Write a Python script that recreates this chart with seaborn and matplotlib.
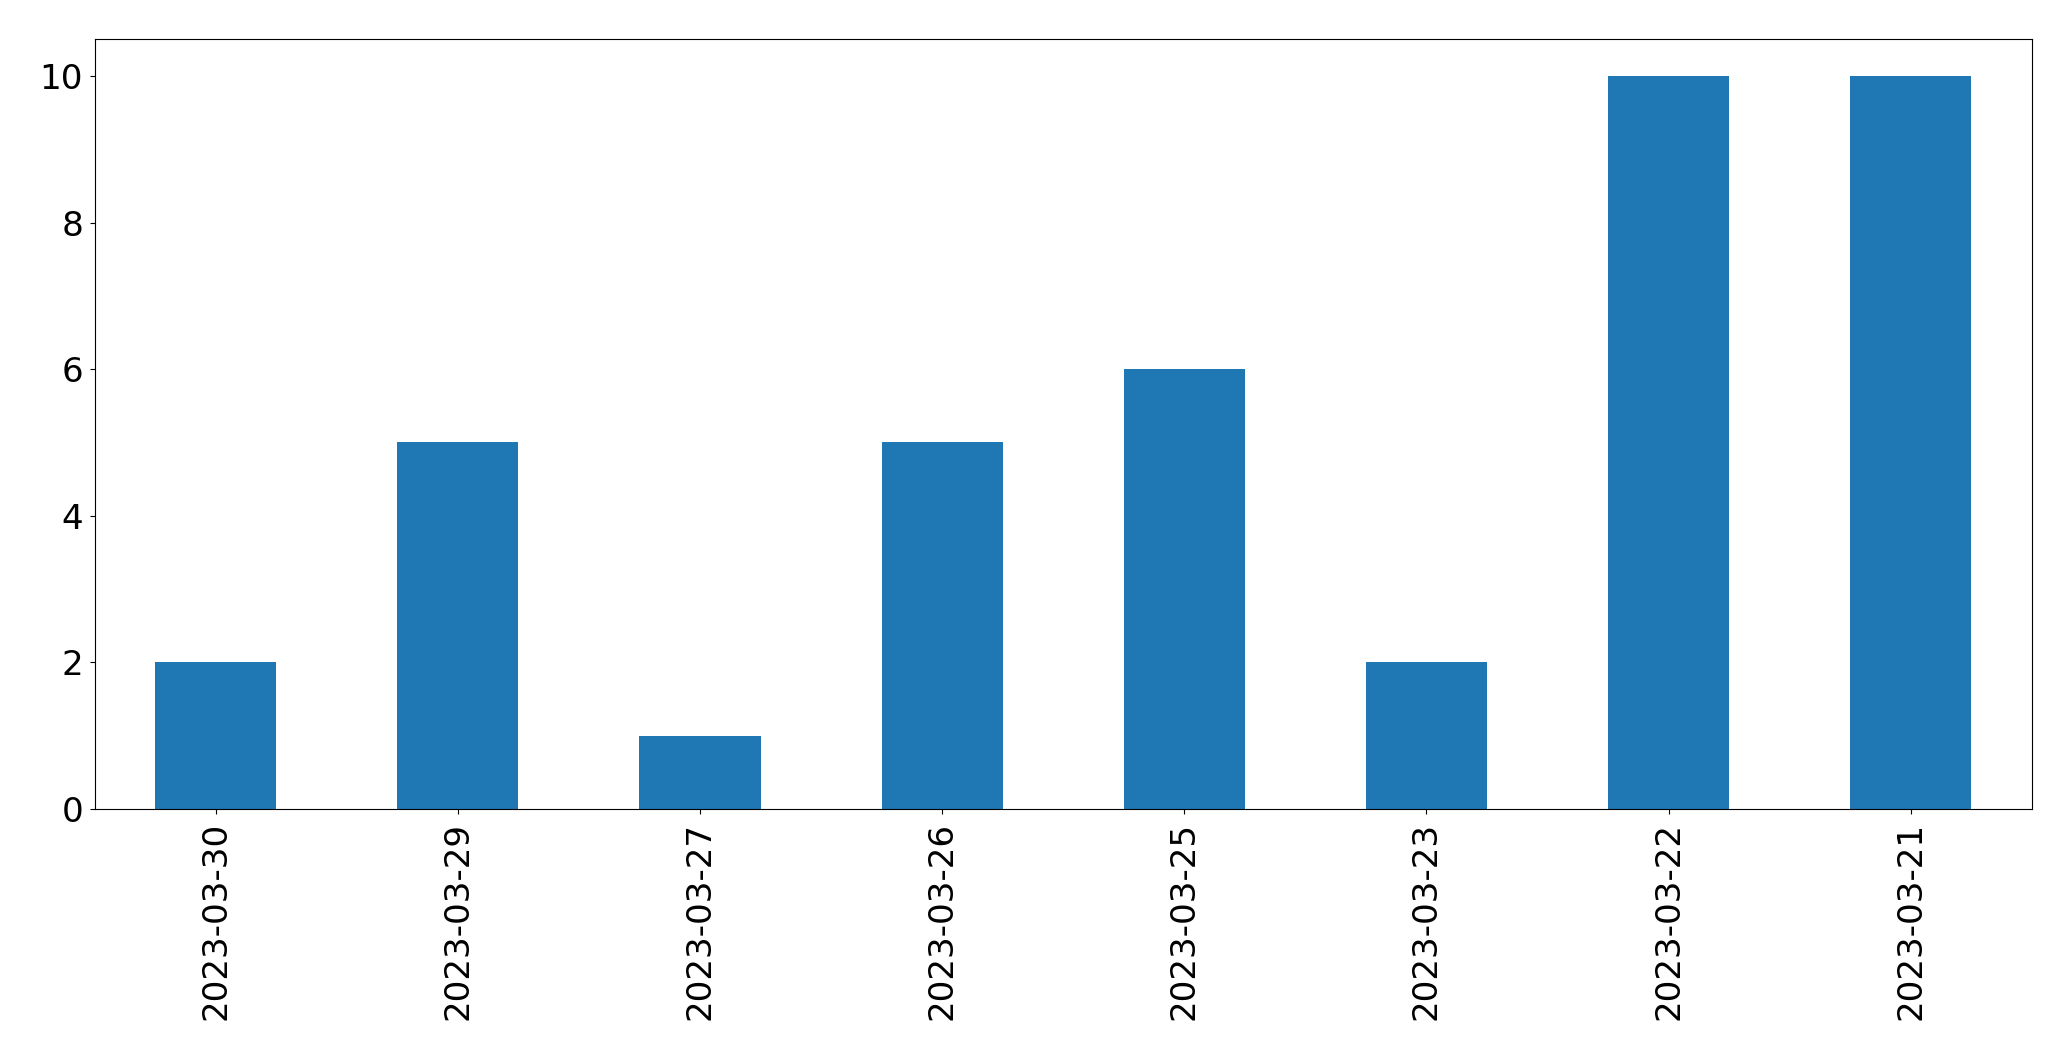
import matplotlib
matplotlib.use('Agg')
import matplotlib.pyplot as plt
import pandas as pd
import seaborn as sns

dates = ['2023-03-30', '2023-03-29', '2023-03-27', '2023-03-26',
         '2023-03-25', '2023-03-23', '2023-03-22', '2023-03-21']
counts = [2, 5, 1, 5, 6, 2, 10, 10]

df = pd.DataFrame({'date': dates, 'count': counts})

fig = plt.figure(figsize=(20.71, 10.61), dpi=100)
ax = fig.add_axes([94.7 / 2071, 1 - 809 / 1061, (2031.7 - 94.7) / 2071, (809 - 39.3) / 1061])

sns.barplot(data=df, x='date', y='count', order=dates, color='#1f77b4',
            saturation=1, width=0.5, ax=ax)

ax.set_xlim(-0.5, len(dates) - 0.5)
ax.set_ylim(0, 10.5)
ax.set_yticks([0, 2, 4, 6, 8, 10])
ax.set_xlabel('')
ax.set_ylabel('')
ax.tick_params(axis='both', labelsize=24.6, length=3.8)
ax.tick_params(axis='y', pad=4.5)
ax.tick_params(axis='x', pad=5.5, labelrotation=90)

fig.savefig('out.png', dpi=100)
